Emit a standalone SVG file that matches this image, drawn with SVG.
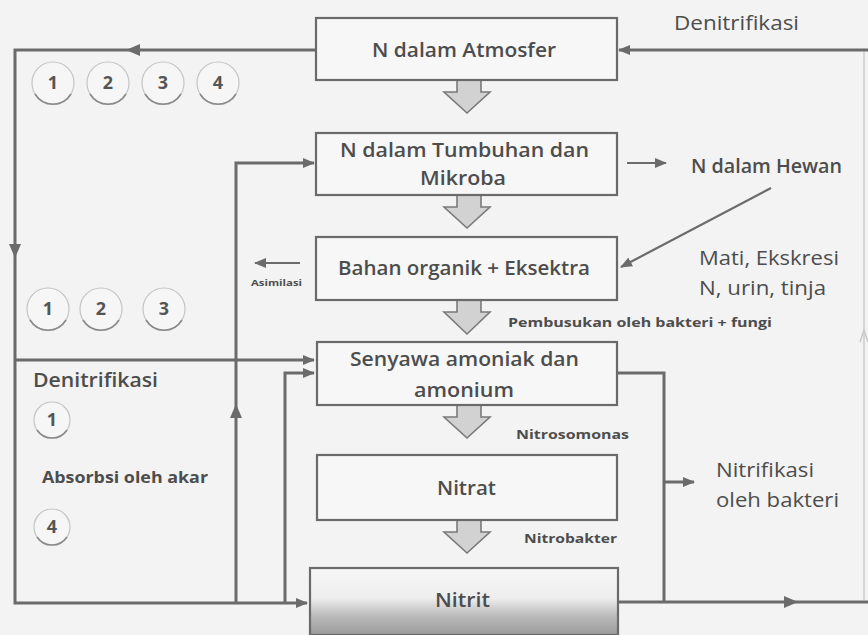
<svg xmlns="http://www.w3.org/2000/svg" width="868" height="635" viewBox="0 0 868 635">
<defs>
<style>
.box{fill:#f7f7f7;stroke:#6a6a6a;stroke-width:2.2}
.ln{fill:none;stroke:#6b6b6b;stroke-width:3}
.thin{fill:none;stroke:#6b6b6b;stroke-width:2.2}
.blk{fill:#d2d2d2;stroke:#7a7a7a;stroke-width:1.6}
.ah{fill:#6b6b6b}
.t{font-family:"Open Sans","Liberation Sans",sans-serif;fill:#4d4d4d}
.bt{font-size:20px;font-weight:600}
.lb{font-size:20px}
.sm{font-size:13px;font-weight:700}
.cir{fill:#f6f6f6;stroke:#c4c4c4;stroke-width:1.2}
.arc{fill:none;stroke:#8a8a8a;stroke-width:1.6}
.num{font-family:"Open Sans","Liberation Sans",sans-serif;font-size:18px;font-weight:700;fill:#555;text-anchor:middle}
</style>
<marker id="ar" viewBox="0 0 12 10" refX="11" refY="5" markerWidth="12" markerHeight="10" markerUnits="userSpaceOnUse" orient="auto">
<path d="M0,0 L12,5 L0,10 z" fill="#6b6b6b"/>
</marker>
<linearGradient id="dirt" x1="0" y1="0" x2="0" y2="1">
<stop offset="0" stop-color="#f7f7f7"/>
<stop offset="0.45" stop-color="#eeeeee"/>
<stop offset="0.7" stop-color="#bdbdbd"/>
<stop offset="1" stop-color="#9a9a9a"/>
</linearGradient>
</defs>
<rect width="868" height="635" fill="#f3f3f3"/>

<g id="connectors">
<path class="ln" d="M316,50 H15 V603 H307" marker-end="url(#ar)"/>
<path class="ah" d="M126,50 L140,44 L140,56 z"/>
<path class="ah" d="M15,258 L9,244 L21,244 z"/>
<path class="ln" d="M15,360 H314" marker-end="url(#ar)"/>
<path class="ln" d="M236,603 V163 H314" marker-end="url(#ar)"/>
<path class="ah" d="M236,404 L230,418 L242,418 z"/>
<path class="ln" d="M285,603 V373 H314" marker-end="url(#ar)"/>
<path class="ln" d="M617,373 H664 V602"/>
<path class="ln" d="M619,602 H868"/>
<path class="ah" d="M798,602 L784,596 L784,608 z"/>
<path class="ln" d="M664,482 H694" marker-end="url(#ar)"/>
<path class="ln" d="M868,50 H619" marker-end="url(#ar)"/>
<path class="thin" d="M627,163 H666" marker-end="url(#ar)"/>
<path class="thin" d="M771,188 L621,267" marker-end="url(#ar)"/>
<path class="thin" d="M300,263 H255" marker-end="url(#ar)"/>
<path d="M864,52 V600" fill="none" stroke="#d6d6d6" stroke-width="2"/>
<path d="M860,342 L864,330 L868,342" fill="none" stroke="#c8c8c8" stroke-width="1.5"/>
</g>

<g id="block-arrows">
<polygon class="blk" points="457,80 481,80 481,92 490,92 467,113 444,92 457,92"/>
<polygon class="blk" points="457,195 481,195 481,207 490,207 467,228 444,207 457,207"/>
<polygon class="blk" points="457,300 481,300 481,312 490,312 467,334 444,312 457,312"/>
<polygon class="blk" points="457,405 481,405 481,417 490,417 467,438 444,417 457,417"/>
<polygon class="blk" points="457,520 481,520 481,532 490,532 467,553 444,532 457,532"/>
</g>

<g id="n-atmosfer">
<rect class="box" x="316" y="18" width="301" height="62"/>
<text class="t bt" x="372" y="57" textLength="184" lengthAdjust="spacingAndGlyphs">N dalam Atmosfer</text>
</g>
<g id="n-tumbuhan">
<rect class="box" x="316" y="133" width="301" height="62"/>
<text class="t bt" x="340" y="157" textLength="249" lengthAdjust="spacingAndGlyphs">N dalam Tumbuhan dan</text>
<text class="t bt" x="420" y="185" textLength="86" lengthAdjust="spacingAndGlyphs">Mikroba</text>
</g>
<g id="bahan-organik">
<rect class="box" x="316" y="237" width="301" height="63"/>
<text class="t bt" x="338" y="275" textLength="252" lengthAdjust="spacingAndGlyphs">Bahan organik + Eksektra</text>
</g>
<g id="amonium">
<rect class="box" x="317" y="342" width="300" height="63"/>
<text class="t bt" x="350" y="366" textLength="229" lengthAdjust="spacingAndGlyphs">Senyawa amoniak dan</text>
<text class="t bt" x="414" y="397" textLength="100" lengthAdjust="spacingAndGlyphs">amonium</text>
</g>
<g id="nitrat">
<rect class="box" x="317" y="455" width="300" height="65"/>
<text class="t bt" x="437" y="495" textLength="59" lengthAdjust="spacingAndGlyphs">Nitrat</text>
</g>
<g id="nitrit">
<rect x="310" y="568" width="308" height="67" fill="url(#dirt)" stroke="#6a6a6a" stroke-width="2.2"/>
<text class="t bt" x="435" y="607" textLength="55" lengthAdjust="spacingAndGlyphs">Nitrit</text>
</g>

<g id="labels">
<text class="t lb" x="674" y="30" textLength="125" lengthAdjust="spacingAndGlyphs">Denitrifikasi</text>
<text class="t lb" x="691" y="173" font-weight="600" textLength="151" lengthAdjust="spacingAndGlyphs">N dalam Hewan</text>
<text class="t lb" x="699" y="265" textLength="140" lengthAdjust="spacingAndGlyphs">Mati, Ekskresi</text>
<text class="t lb" x="699" y="295" textLength="127" lengthAdjust="spacingAndGlyphs">N, urin, tinja</text>
<text class="t sm" x="508" y="327" textLength="264" lengthAdjust="spacingAndGlyphs">Pembusukan oleh bakteri + fungi</text>
<text class="t sm" x="251" y="286" style="font-size:9px" textLength="51" lengthAdjust="spacingAndGlyphs">Asimilasi</text>
<text class="t sm" x="516" y="439" textLength="113" lengthAdjust="spacingAndGlyphs">Nitrosomonas</text>
<text class="t sm" x="524" y="543" textLength="93" lengthAdjust="spacingAndGlyphs">Nitrobakter</text>
<text class="t lb" x="716" y="477" textLength="98" lengthAdjust="spacingAndGlyphs">Nitrifikasi</text>
<text class="t lb" x="716" y="507" textLength="123" lengthAdjust="spacingAndGlyphs">oleh bakteri</text>
<text class="t lb" x="33" y="387" font-weight="600" textLength="125" lengthAdjust="spacingAndGlyphs">Denitrifikasi</text>
<text class="t sm" x="42" y="483" style="font-size:16px" textLength="166" lengthAdjust="spacingAndGlyphs">Absorbsi oleh akar</text>
</g>

<g id="circles">
<circle class="cir" cx="53" cy="83" r="21"/><path class="arc" d="M35,94 A21,21 0 0 0 71,94"/><text class="num" x="53" y="89">1</text>
<circle class="cir" cx="108" cy="83" r="21"/><path class="arc" d="M90,94 A21,21 0 0 0 126,94"/><text class="num" x="108" y="89">2</text>
<circle class="cir" cx="163" cy="83" r="21"/><path class="arc" d="M145,94 A21,21 0 0 0 181,94"/><text class="num" x="163" y="89">3</text>
<circle class="cir" cx="218" cy="83" r="21"/><path class="arc" d="M200,94 A21,21 0 0 0 236,94"/><text class="num" x="218" y="89">4</text>
<circle class="cir" cx="48" cy="309" r="21"/><path class="arc" d="M30,320 A21,21 0 0 0 66,320"/><text class="num" x="48" y="315">1</text>
<circle class="cir" cx="101" cy="309" r="21"/><path class="arc" d="M83,320 A21,21 0 0 0 119,320"/><text class="num" x="101" y="315">2</text>
<circle class="cir" cx="164" cy="309" r="21"/><path class="arc" d="M146,320 A21,21 0 0 0 182,320"/><text class="num" x="164" y="315">3</text>
<circle class="cir" cx="52" cy="420" r="18"/><path class="arc" d="M37,430 A18,18 0 0 0 67,430"/><text class="num" x="52" y="426">1</text>
<circle class="cir" cx="52" cy="527" r="18"/><path class="arc" d="M37,537 A18,18 0 0 0 67,537"/><text class="num" x="52" y="533">4</text>
</g>
</svg>
